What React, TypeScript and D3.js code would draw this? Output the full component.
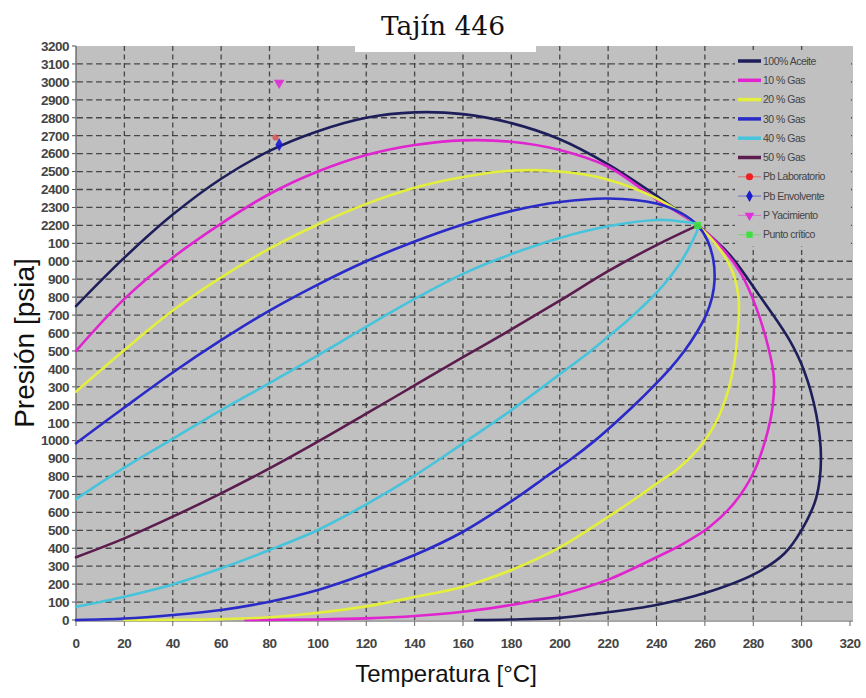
import React from "react";
import * as d3 from "d3";

// ---- data (Temperatura [°C], Presión [psia]) ----
const aceite100: [number, number][] = [
  [0, 1750], [20, 2020], [40, 2260], [60, 2460], [80, 2615], [100, 2725], [120, 2800], [140, 2830],
  [160, 2820], [180, 2770], [200, 2680], [220, 2540], [240, 2365], [257, 2200], [270, 2040],
  [283, 1800], [295, 1560], [301, 1390], [306, 1150], [308, 900], [306, 680], [300, 502],
  [293, 372], [281, 260], [260, 150], [240, 84], [216, 37], [200, 12], [180, 3], [165, 0],
];
const gas10: [number, number][] = [
  [0, 1500], [20, 1790], [40, 2020], [60, 2210], [80, 2375], [100, 2500], [120, 2592], [140, 2648],
  [160, 2674], [180, 2666], [200, 2620], [220, 2527], [240, 2345], [257, 2200], [266, 2090],
  [275, 1930], [281, 1750], [286.5, 1505], [288.5, 1356], [288, 1189], [285, 1003], [280, 818],
  [272, 650], [262, 520], [251, 425], [240, 350], [220, 225], [200, 140], [180, 84], [160, 46],
  [140, 22], [120, 9], [100, 3], [70, 0],
];
const gas20: [number, number][] = [
  [0, 1273], [20, 1505], [40, 1725], [60, 1910], [80, 2070], [100, 2205], [120, 2320], [140, 2410],
  [160, 2470], [180, 2505], [200, 2500], [220, 2455], [240, 2350], [257, 2200], [266, 2070],
  [271.5, 1940], [274, 1784], [273.5, 1600], [272, 1420], [268.5, 1230], [263.5, 1075], [257, 950],
  [249, 845], [240, 760], [230, 665], [220, 575], [200, 405], [180, 279], [160, 186], [140, 128],
  [120, 76], [100, 40], [80, 15], [60, 5], [40, 1], [20, 0],
];
const gas30: [number, number][] = [
  [0, 985], [20, 1185], [40, 1380], [60, 1560], [80, 1725], [100, 1870], [120, 2000], [140, 2110],
  [160, 2205], [180, 2280], [200, 2330], [220, 2350], [240, 2322], [250, 2270], [257, 2200],
  [261, 2118], [263.5, 2007], [264, 1895], [263, 1800], [260.5, 1700], [256.5, 1600], [251.5, 1500],
  [245.5, 1400], [238.5, 1300], [231, 1200], [223, 1100], [214.5, 1000], [205, 900], [194.5, 800],
  [182, 680], [160, 492], [140, 362], [120, 258], [100, 167], [80, 102], [60, 56], [40, 28],
  [20, 8], [0, 0],
];
const gas40: [number, number][] = [
  [0, 675], [20, 850], [40, 1010], [60, 1170], [80, 1320], [100, 1475], [120, 1635], [140, 1790],
  [160, 1930], [180, 2040], [200, 2130], [220, 2195], [240, 2230], [250, 2222], [257, 2200],
  [254, 2090], [249, 1975], [243, 1870], [236, 1770], [228, 1670], [220, 1580], [210, 1470],
  [200, 1370], [180, 1170], [160, 985], [140, 805], [120, 645], [100, 502], [80, 390], [60, 288],
  [40, 198], [20, 130], [0, 74],
];
const gas50: [number, number][] = [
  [0, 350], [20, 455], [40, 576], [60, 706], [80, 845], [100, 994], [120, 1150], [140, 1308],
  [160, 1465], [180, 1620], [200, 1780], [220, 1945], [240, 2090], [257, 2200],
];
const pbLaboratorio: [number, number][] = [[82.5, 2690]];
const pbEnvolvente: [number, number][] = [[84, 2650]];
const pYacimiento: [number, number][] = [[84, 2995]];
const puntoCritico: [number, number][] = [[257, 2200]];

const seriesNames = ["100% Aceite", "10 % Gas", "20 % Gas", "30 % Gas", "40 % Gas", "50 % Gas"];
const markerNames = ["Pb Laboratorio", "Pb Envolvente", "P Yacimiento", "Punto crítico"];
const xTicks = d3.range(0, 321, 20);
const yTicks = d3.range(0, 3201, 100);

const lineColors = ["#1e1e5a", "#e024d0", "#e4ee3c", "#2a2ac8", "#46c4dc", "#5c1c4e"];
const markerColors = ["#ee2020", "#1a1ad0", "#e030d8", "#40e040"];

export default function App() {
  const W = 866, H = 698;
  const x = d3.scaleLinear().domain([0, 320]).range([76, 850]);
  const y = d3.scaleLinear().domain([0, 3200]).range([620, 46]);
  const line = d3
    .line<[number, number]>()
    .x((d) => x(d[0]))
    .y((d) => y(d[1]))
    .curve(d3.curveCatmullRom.alpha(0.5));
  const curves = [aceite100, gas10, gas20, gas30, gas40, gas50];
  const markers = [pbLaboratorio, pbEnvolvente, pYacimiento, puntoCritico];
  const sym = [d3.symbolCircle, d3.symbolDiamond, d3.symbolTriangle, d3.symbolSquare];
  const rot = [0, 0, 180, 0];

  const legendY = (i: number) => 61 + i * 19.3;
  const tickFont = "Liberation Sans, Arial, sans-serif";

  return (
    <svg width={W} height={H} style={{ position: "absolute", left: 0, top: 0, background: "#fff" }}>
      <rect x={0} y={0} width={W} height={H} fill="#ffffff" />
      {/* plot area */}
      <rect x={76} y={46} width={777} height={574} fill="#c0c0c0" />
      {/* grid */}
      {yTicks.filter((t) => t > 0 && t < 3200).map((t) => (
        <line key={"gy" + t} x1={77} x2={852} y1={y(t)} y2={y(t)} stroke="#333" strokeWidth={1.3}
          strokeDasharray="6,3.5" opacity={0.85} />
      ))}
      {xTicks.filter((t) => t > 0 && t < 320).map((t) => (
        <line key={"gx" + t} x1={x(t)} x2={x(t)} y1={46} y2={620} stroke="#333" strokeWidth={1.3}
          strokeDasharray="5,3.5" opacity={0.85} />
      ))}
      {/* legend background */}
      <rect x={735} y={50} width={116} height={196} fill="#c0c0c0" />
      {/* axes */}
      <line x1={76} x2={76} y1={46} y2={621} stroke="#555" strokeWidth={1.2} />
      <line x1={75} x2={853} y1={621} y2={621} stroke="#888" strokeWidth={1.5} />
      {yTicks.map((t) => (
        <g key={"yt" + t}>
          <line x1={72} x2={76} y1={y(t)} y2={y(t)} stroke="#555" />
          <text x={69} y={y(t)} dy="0.36em" textAnchor="end" fontFamily={tickFont} fontSize={13.5}
            letterSpacing={-0.5} fill="#444" fontWeight="bold">{t}</text>
        </g>
      ))}
      {xTicks.map((t) => (
        <g key={"xt" + t}>
          <line x1={x(t)} x2={x(t)} y1={621} y2={626} stroke="#666" />
          <text x={x(t)} y={648} textAnchor="middle" fontFamily={tickFont} fontSize={13.5}
            letterSpacing={-0.5} fill="#444" fontWeight="bold">{t}</text>
        </g>
      ))}
      {/* curves */}
      {curves.map((c, i) => (
        <path key={"c" + i} d={line(c) || ""} fill="none" stroke={lineColors[i]} strokeWidth={2.6}
          strokeLinejoin="round" strokeLinecap="round" />
      ))}
      {/* markers */}
      {markers.map((m, i) =>
        m.map((p, j) => (
          <path key={"m" + i + "-" + j}
            transform={`translate(${x(p[0])},${y(p[1])}) rotate(${rot[i]})`}
            d={d3.symbol().type(sym[i]).size(i === 0 ? 30 : 50)() || ""}
            fill={markerColors[i]} opacity={i === 0 ? 0.6 : 0.9} />
        ))
      )}
      {/* legend */}
      {seriesNames.map((n, i) => (
        <g key={"l" + i}>
          <line x1={738} x2={761} y1={legendY(i)} y2={legendY(i)} stroke={lineColors[i]} strokeWidth={3.5} />
          <text x={763} y={legendY(i)} dy="0.35em" fontFamily={tickFont} fontSize={10.5} letterSpacing={-0.5}
            fill="#444">{n}</text>
        </g>
      ))}
      {markerNames.map((n, k) => {
        const i = k + 6;
        return (
          <g key={"lm" + k}>
            <line x1={738} x2={761} y1={legendY(i)} y2={legendY(i)} stroke={markerColors[k]} strokeWidth={1} opacity={0.5} />
            <path transform={`translate(${749.5},${legendY(i)}) rotate(${rot[k]})`}
              d={d3.symbol().type(sym[k]).size(40)() || ""} fill={markerColors[k]} />
            <text x={763} y={legendY(i)} dy="0.35em" fontFamily={tickFont} fontSize={10.5} letterSpacing={-0.5}
              fill="#444">{n}</text>
          </g>
        );
      })}
      {/* title box */}
      <rect x={355} y={0} width={181} height={52} fill="#ffffff" />
      <text x={443} y={35} textAnchor="middle" fontFamily="DejaVu Serif, serif" fontSize={26.5} fill="#111">Tajín 446</text>
      {/* y label box */}
      <rect x={0} y={230} width={48} height={205} fill="#ffffff" />
      <text transform="translate(34,343) rotate(-90)" textAnchor="middle" fontFamily={tickFont} fontSize={28}
        fill="#111">Presión [psia]</text>
      <text x={446} y={682} textAnchor="middle" fontFamily={tickFont} fontSize={24} fill="#111">Temperatura [°C]</text>
    </svg>
  );
}
